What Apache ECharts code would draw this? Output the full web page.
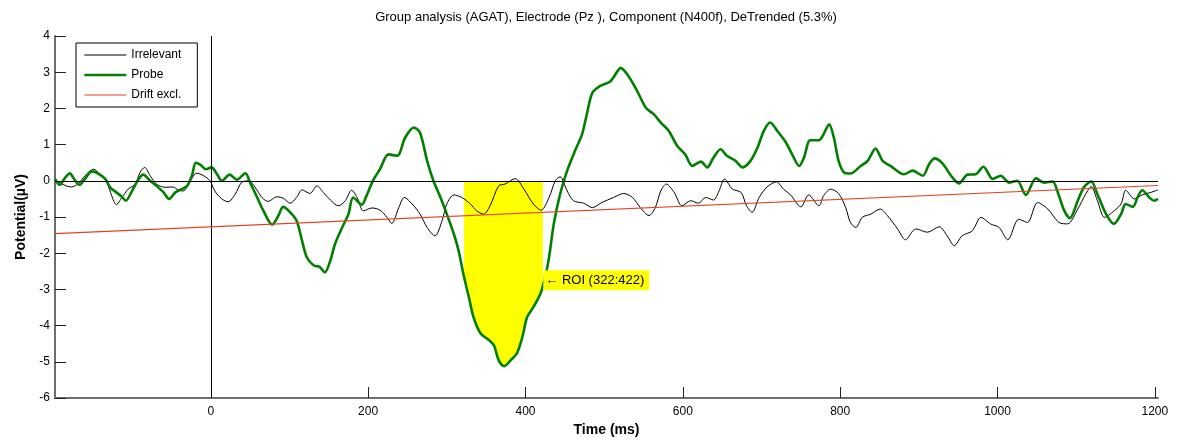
<!DOCTYPE html>
<html>
<head>
<meta charset="utf-8">
<title>Group analysis (AGAT) – Pz – N400f</title>
<script src="https://cdn.jsdelivr.net/npm/echarts@6/dist/echarts.min.js"></script>
<style>
  html, body { margin: 0; padding: 0; background: #ffffff; }
  #chart { width: 1181px; height: 442px; }
</style>
</head>
<body>
<div id="chart"></div>
<script>
// Grand-average ERP at Pz, time in ms, potential in µV
const timeTicks = [0, 200, 400, 600, 800, 1000, 1200];
const potentialRange = [-6, 4];
const timeRange = [-198, 1204];

const irrelevantMs = [-198,-192,-184,-177,-168,-160,-149,-141,-132,-126,
  -120,-113,-105,-96,-90,-84,-77,-69,-58,-48,
  -41,-35,-26,-18,-9,-1,5,14,22,31,
  39,48,56,65,73,84,92,101,109,116,
  126,135,143,152,162,171,179,186,194,205,
  215,224,230,239,246,256,266,275,285,294,
  300,309,319,330,338,347,355,366,374,387,
  398,410,420,430,438,444,453,461,474,485,
  497,512,525,536,546,557,565,572,579,589,
  599,610,620,629,639,646,653,663,674,681,
  688,697,707,719,728,737,750,760,773,779,
  788,798,807,813,820,828,839,851,860,873,
  883,896,911,926,936,945,955,968,979,991,
  1002,1013,1027,1038,1051,1064,1078,1089,1102,1112,
  1119,1127,1136,1146,1157,1163,1174,1184,1195,1204];
const irrelevantUv = [0.00,-0.05,-0.14,-0.17,-0.07,0.14,0.32,0.18,-0.05,-0.41,
  -0.66,-0.46,-0.23,-0.09,0.23,0.37,0.14,-0.09,-0.18,-0.17,
  -0.26,-0.28,0.00,0.21,0.14,0.00,-0.28,-0.50,-0.58,-0.37,
  -0.05,0.00,-0.17,-0.46,-0.57,-0.44,-0.48,-0.62,-0.46,-0.25,
  -0.35,-0.14,-0.32,-0.53,-0.69,-0.55,-0.26,-0.46,-0.83,-0.75,
  -0.81,-1.01,-1.18,-0.74,-0.46,-0.64,-0.92,-1.29,-1.52,-1.10,
  -0.64,-0.39,-0.46,-0.64,-0.83,-0.92,-0.69,-0.14,-0.09,0.06,
  -0.23,-0.64,-0.81,-0.46,0.00,0.11,-0.28,-0.55,-0.62,-0.74,
  -0.60,-0.46,-0.35,-0.46,-0.74,-0.96,-0.74,-0.28,-0.09,-0.32,
  -0.69,-0.55,-0.62,-0.46,-0.53,-0.28,0.05,-0.23,-0.32,-0.69,
  -0.87,-0.46,-0.17,-0.03,-0.23,-0.39,-0.72,-0.39,-0.69,-0.41,
  -0.23,-0.35,-0.74,-1.15,-1.29,-1.01,-0.92,-0.78,-0.96,-1.33,
  -1.63,-1.33,-1.42,-1.27,-1.52,-1.79,-1.52,-1.38,-1.01,-1.19,
  -1.29,-1.63,-1.06,-1.15,-0.60,-0.78,-1.15,-1.19,-0.78,-0.37,
  -0.16,-0.55,-1.01,-0.87,-0.64,-0.26,-0.50,-0.39,-0.32,-0.25];

const probeMs = [-198,-192,-185,-179,-175,-167,-160,-151,-143,-134,
  -128,-120,-113,-108,-101,-93,-86,-77,-69,-60,
  -53,-45,-37,-30,-24,-19,-13,-6,1,8,
  14,24,33,44,50,59,67,78,86,92,
  101,109,116,122,131,138,145,152,158,167,
  175,181,192,198,206,215,226,237,247,258,
  266,275,283,292,300,309,315,321,328,334,
  343,353,360,366,373,381,389,396,402,410,
  419,425,430,436,444,453,463,472,478,485,
  495,508,517,521,531,542,553,563,572,582,
  593,603,612,623,631,639,648,656,667,676,
  686,695,703,711,720,731,739,748,754,762,
  773,779,786,792,798,805,813,826,835,845,
  854,864,881,892,905,913,920,930,941,951,
  962,972,982,994,1004,1015,1025,1036,1049,1059,
  1070,1076,1085,1092,1102,1110,1119,1127,1138,1148,
  1157,1163,1172,1178,1184,1193,1199,1204];
const probeUv = [0.05,-0.11,0.09,0.21,0.09,-0.11,0.05,0.26,0.20,0.05,
  -0.18,-0.32,-0.44,-0.55,-0.32,0.00,0.17,0.00,-0.14,-0.32,
  -0.50,-0.32,-0.23,-0.14,0.14,0.50,0.44,0.32,0.37,0.18,
  0.00,0.17,0.03,0.21,-0.05,-0.46,-0.83,-1.21,-0.96,-0.72,
  -0.87,-1.10,-1.65,-2.11,-2.34,-2.37,-2.53,-2.20,-1.74,-1.29,
  -0.92,-0.46,-0.66,-0.41,0.00,0.32,0.73,0.69,1.19,1.47,
  1.33,0.55,0.00,-0.46,-0.92,-1.47,-1.93,-2.57,-3.21,-3.77,
  -4.22,-4.39,-4.55,-4.96,-5.12,-4.96,-4.77,-4.32,-3.77,-3.49,
  -3.12,-2.66,-2.11,-1.19,-0.37,0.28,0.83,1.29,1.84,2.43,
  2.62,2.75,3.03,3.12,2.89,2.48,2.02,1.84,1.61,1.38,
  0.96,0.73,0.41,0.53,0.37,0.64,0.87,0.69,0.55,0.37,
  0.55,0.92,1.38,1.61,1.38,1.06,0.73,0.41,0.64,1.12,
  1.12,1.29,1.56,1.19,0.55,0.23,0.20,0.41,0.55,0.89,
  0.55,0.41,0.18,0.28,0.14,0.46,0.62,0.48,0.14,-0.07,
  0.17,0.18,0.39,0.05,0.14,-0.05,0.00,-0.39,0.07,-0.05,
  -0.02,-0.28,-0.83,-1.03,-0.55,-0.17,-0.02,-0.37,-0.92,-1.19,
  -0.92,-0.64,-0.72,-0.46,-0.26,-0.46,-0.55,-0.50];

// Linear drift estimate (end points of the fitted trend)
const driftMs = [-198, 1204];
const driftUv = [-1.46, -0.13];

// Region of interest for the N400f component
const roiMs = [322, 422];
const roiText = '\u2190 ROI (322:422)';
const roiTextAt = [422, -2.75];

const FONT = '"Liberation Sans", Arial, Helvetica, sans-serif';

const COLOR_IRR = '#000000';
const COLOR_PROBE = '#008000';
const COLOR_DRIFT = '#e5401c';
const WIDTH_IRR = 1;
const WIDTH_PROBE = 2.6;
const WIDTH_DRIFT = 1.2;

function pairs(xs, ys) { return xs.map((x, i) => [x, ys[i]]); }

function probeAt(t) {
  for (let i = 1; i < probeMs.length; i++) {
    if (probeMs[i] >= t) {
      const f = (t - probeMs[i - 1]) / (probeMs[i] - probeMs[i - 1]);
      return probeUv[i - 1] + f * (probeUv[i] - probeUv[i - 1]);
    }
  }
  return probeUv[probeUv.length - 1];
}

// Probe trace clipped to the ROI window, used for the shaded area
const roiData = [[roiMs[0], probeAt(roiMs[0])]]
  .concat(pairs(probeMs, probeUv).filter(p => p[0] > roiMs[0] && p[0] < roiMs[1]))
  .concat([[roiMs[1], probeAt(roiMs[1])]]);

const SMOOTH = 0.3;

const chart = echarts.init(document.getElementById('chart'), null, { renderer: 'canvas' });

chart.setOption({
  animation: false,
  backgroundColor: '#ffffff',
  textStyle: { fontFamily: FONT },
  title: {
    text: 'Group analysis (AGAT), Electrode (Pz ), Component (N400f), DeTrended (5.3%)',
    left: 606,
    top: 11,
    textAlign: 'center',
    padding: 0,
    textStyle: { fontFamily: FONT, fontSize: 13, fontWeight: 'normal', color: '#000' }
  },
  legend: {
    orient: 'vertical',
    left: 76,
    top: 43,
    padding: [6, 16, 6, 7],
    itemWidth: 42,
    itemHeight: 14,
    itemGap: 8,
    borderColor: '#000',
    borderWidth: 1,
    backgroundColor: '#fff',
    selectedMode: false,
    itemStyle: { opacity: 0 },
    data: [
      { name: 'Irrelevant', lineStyle: { color: COLOR_IRR, width: WIDTH_IRR } },
      { name: 'Probe', lineStyle: { color: COLOR_PROBE, width: WIDTH_PROBE } },
      { name: 'Drift excl.', lineStyle: { color: COLOR_DRIFT, width: WIDTH_DRIFT } }
    ],
    textStyle: { fontFamily: FONT, fontSize: 12, color: '#000' }
  },
  grid: { left: 55, right: 23, top: 36, bottom: 43, containLabel: false },
  xAxis: {
    type: 'value',
    min: timeRange[0],
    max: timeRange[1],
    name: 'Time (ms)',
    nameLocation: 'middle',
    nameGap: 25,
    nameTextStyle: { fontFamily: FONT, fontSize: 14, fontWeight: 'bold', color: '#000' },
    axisLine: { show: true, onZero: false, lineStyle: { color: '#6e6e6e', width: 2 } },
    axisTick: { show: true, inside: true, length: 11, customValues: timeTicks,
      lineStyle: { color: '#222', width: 1 } },
    axisLabel: { show: true, customValues: timeTicks, margin: 8,
      formatter: v => String(v),
      fontFamily: FONT, fontSize: 12, color: '#000' },
    splitLine: { show: false }
  },
  yAxis: {
    type: 'value',
    min: potentialRange[0],
    max: potentialRange[1],
    interval: 1,
    name: 'Potential(\u00b5V)',
    nameLocation: 'middle',
    nameGap: 24,
    nameTextStyle: { fontFamily: FONT, fontSize: 14, fontWeight: 'bold', color: '#000' },
    axisLine: { show: true, onZero: false, lineStyle: { color: '#6e6e6e', width: 2 } },
    axisTick: { show: true, inside: true, length: 11, lineStyle: { color: '#222', width: 1 } },
    axisLabel: { margin: 5, fontFamily: FONT, fontSize: 12, color: '#000' },
    splitLine: { show: false }
  },
  series: [
    {
      name: 'ROI',
      type: 'line',
      data: roiData,
      smooth: SMOOTH,
      symbol: 'none',
      silent: true,
      z: 1,
      lineStyle: { width: 0, opacity: 0 },
      areaStyle: { color: '#ffff00', opacity: 1 },
      markPoint: {
        silent: true,
        symbol: 'rect',
        symbolSize: 1,
        itemStyle: { color: 'rgba(0,0,0,0)' },
        data: [{
          coord: roiTextAt,
          label: {
            show: true,
            position: 'right',
            distance: 0,
            formatter: roiText,
            backgroundColor: '#ffff00',
            padding: [4, 5, 3, 2],
            fontFamily: FONT,
            fontSize: 13,
            color: '#000'
          }
        }]
      }
    },
    {
      name: 'Irrelevant',
      type: 'line',
      data: pairs(irrelevantMs, irrelevantUv),
      smooth: SMOOTH,
      symbol: 'none',
      z: 3,
      color: COLOR_IRR,
      lineStyle: { color: COLOR_IRR, width: WIDTH_IRR },
      markLine: {
        silent: true,
        symbol: 'none',
        label: { show: false },
        lineStyle: { color: '#000', width: 1, type: 'solid' },
        data: [{ yAxis: 0 }, { xAxis: 0 }]
      }
    },
    {
      name: 'Probe',
      type: 'line',
      data: pairs(probeMs, probeUv),
      smooth: SMOOTH,
      symbol: 'none',
      z: 4,
      color: COLOR_PROBE,
      lineStyle: { color: COLOR_PROBE, width: WIDTH_PROBE }
    },
    {
      name: 'Drift excl.',
      type: 'line',
      data: pairs(driftMs, driftUv),
      symbol: 'none',
      z: 5,
      color: COLOR_DRIFT,
      lineStyle: { color: COLOR_DRIFT, width: WIDTH_DRIFT }
    }
  ]
});
</script>
</body>
</html>
